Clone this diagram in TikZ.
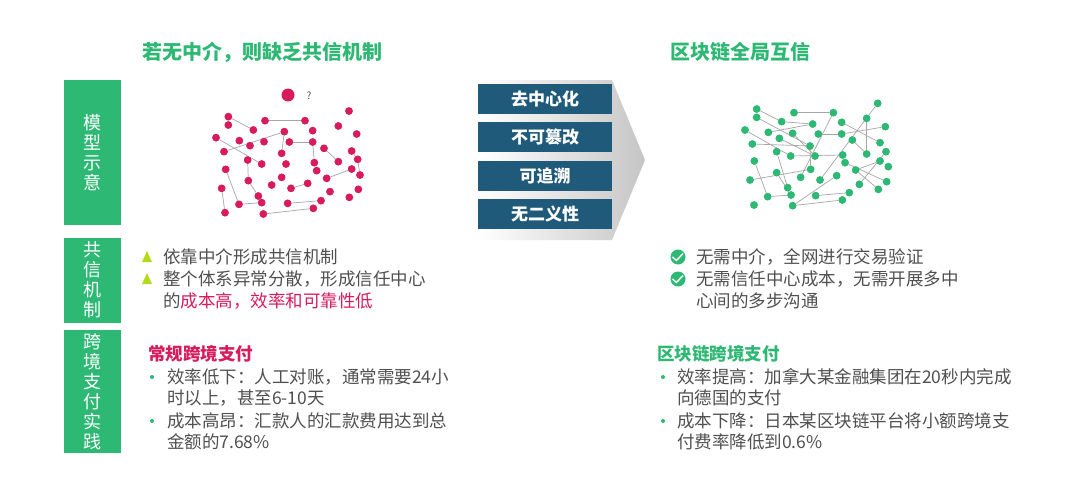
\documentclass[tikz,border=0pt]{standalone}
\usepackage{fontspec}
\setmainfont{Noto Sans CJK SC}
\usetikzlibrary{shapes.geometric}
\definecolor{cgreen}{HTML}{2DB873}
\definecolor{cpink}{HTML}{D81B5A}
\definecolor{cblue}{HTML}{1F5A7A}
\definecolor{ctext}{HTML}{505050}
\tikzset{
  sidebox/.style={fill=cgreen,text=white,minimum width=57pt,align=center,font=\fontsize{18}{20}\selectfont},
  featbox/.style={fill=cblue,text=white,minimum width=134pt,minimum height=30pt,font=\fontsize{17}{19}\selectfont\bfseries},
  body/.style={text=ctext,anchor=west,inner sep=0pt,font=\fontsize{17.5}{19}\selectfont},
  head/.style={anchor=west,inner sep=0pt,font=\fontsize{17.5}{19}\selectfont\bfseries},
  pdot/.style={circle,fill=cpink,inner sep=0pt,minimum size=7.5pt},
  gdot/.style={circle,fill=cgreen,inner sep=0pt,minimum size=7.5pt},
  link/.style={gray!70,line width=0.7pt},
  bul/.style={circle,fill=cgreen,inner sep=0pt,minimum size=4pt}
}
\begin{document}
\begin{tikzpicture}[x=1pt,y=-1pt]
\useasboundingbox (0,0) rectangle (1080,501);
\fill[white] (0,0) rectangle (1080,501);
% titles
\node[text=cgreen,font=\fontsize{20}{22}\selectfont\bfseries] (ltitle) at (262,52) {若无中介，则缺乏共信机制};
\node[text=cgreen,font=\fontsize{20}{22}\selectfont\bfseries,anchor=west] (rtitle) at (667,52) {区块链全局互信};
% side boxes
\node[sidebox,minimum height=145pt] (model) at (92.5,152.5) {模\\型\\示\\意};
\node[sidebox,minimum height=85pt] (mech) at (92.5,280) {共\\信\\机\\制};
\node[sidebox,minimum height=113pt] (pay) at (92.5,391.5) {跨\\境\\支\\付\\实\\践};
% arrow with features
\shade[left color=white,right color=gray!45] (478,80) -- (612,80) -- (645,160) -- (612,240) -- (478,240) -- cycle;
\node[featbox] (f1) at (545,99) {去中心化};
\node[featbox] (f2) at (545,137) {不可篡改};
\node[featbox] (f3) at (545,176) {可追溯};
\node[featbox] (f4) at (545,214) {无二义性};
% centralised network
\node[circle,fill=cpink,inner sep=0pt,minimum size=13pt] (hub) at (288,95) {};
\node[text=ctext,font=\fontsize{10}{11}\selectfont] (qm) at (309,96) {?};
\begin{scope}[shift={(130,80)},scale=1/3]
\foreach \x/\y [count=\i] in {295/110,295/135,370/150,405/122,525/122,463/155,548/152,625/138,657/93,680/162,
  258/173,328/182,360/197,402/185,478/186,548/186,582/205,665/213,282/215,455/220,
  353/240,395/252,468/252,553/248,625/245,683/238,287/268,560/272,665/267,690/285,
  355/302,455/292,590/295,425/315,483/325,533/310,275/325,385/348,600/335,685/328,
  658/352,327/373,395/368,473/370,573/362,285/398,400/402,550/385}
  \node[pdot] (l\i) at (\x,\y) {};
\end{scope}
\foreach \a/\b in {1/3,4/5,6/20,15/16,19/6,11/22,16/24,17/25,18/26,26/30,33/29,21/31,31/38,
  27/42,42/43,37/46,35/36,44/45,47/48,38/43}
  \draw[link] (l\a) -- (l\b);
% distributed network
\begin{scope}[shift={(640,80)},scale=1/3]
\foreach \x/\y [count=\i] in {350/87,350/112,462/98,580/98,713/70,680/115,425/125,518/132,605/127,736/140,
  315/150,385/157,458/160,535/162,605/162,418/175,637/180,337/192,720/188,510/198,
  410/215,452/228,525/228,608/225,680/222,738/215,343/243,615/248,720/243,745/260,
  512/268,647/270,410/278,482/292,540/300,590/287,740/305,330/300,658/313,715/328,
  443/323,453/345,527/347,628/338,383/350,342/375,458/377,607/360}
  \node[gdot] (r\i) at (\x,\y) {};
\end{scope}
\foreach \a/\b in {1/7,3/4,2/20,7/8,4/34,9/19,6/25,5/35,10/15,11/22,12/8,14/15,18/20,17/25,
  21/41,22/24,27/45,45/42,38/31,29/32,28/37,26/39,36/47,43/44,47/48,33/42,16/23,20/31,13/23,40/32}
  \draw[link] (r\a) -- (r\b);
\foreach \i in {1,...,48} \node[gdot] at (r\i) {};
\foreach \i in {1,...,48} \node[pdot] at (l\i) {};
% mechanism text, left
\fill[yellow!70!green] (142,262) -- (147,251) -- (152,262) -- cycle;
\fill[yellow!70!green] (142,284) -- (147,273) -- (152,284) -- cycle;
\node[body] (lm1) at (163,257) {依靠中介形成共信机制};
\node[body] (lm2) at (163,279) {整个体系异常分散，形成信任中心};
\node[body] (lm3) at (163,301) {的\textcolor{cpink}{成本高，效率和可靠性低}};
% mechanism text, right
\foreach \y/\n in {257/c1,279/c2}{
  \node[circle,fill=cgreen,inner sep=0pt,minimum size=15pt] (\n) at (678,\y) {};
  \draw[white,line width=1.4pt] (672.5,\y) -- (676.5,\y+3.5) -- (683,\y-3.5);
}
\node[body] (rm1) at (696,257) {无需中介，全网进行交易验证};
\node[body] (rm2) at (696,279) {无需信任中心成本，无需开展多中};
\node[body] (rm3) at (696,301) {心间的多步沟通};
% payment practice, left
\node[head,text=cpink] (lh) at (148,354) {常规跨境支付};
\node[bul] (lb1) at (152,377) {};
\node[body] (lp1) at (167,377) {效率低下：人工对账，通常需要24小};
\node[body] (lp2) at (167,398) {时以上，甚至6-10天};
\node[bul] (lb2) at (152,421) {};
\node[body] (lp3) at (167,421) {成本高昂：汇款人的汇款费用达到总};
\node[body] (lp4) at (167,442) {金额的7.68\%};
% payment practice, right
\node[head,text=cgreen] (rh) at (657,354) {区块链跨境支付};
\node[bul] (rb1) at (663,377) {};
\node[body] (rp1) at (677,377) {效率提高：加拿大某金融集团在20秒内完成};
\node[body] (rp2) at (677,398) {向德国的支付};
\node[bul] (rb2) at (663,421) {};
\node[body] (rp3) at (677,421) {成本下降：日本某区块链平台将小额跨境支};
\node[body] (rp4) at (677,442) {付费率降低到0.6\%};
\end{tikzpicture}
\end{document}
